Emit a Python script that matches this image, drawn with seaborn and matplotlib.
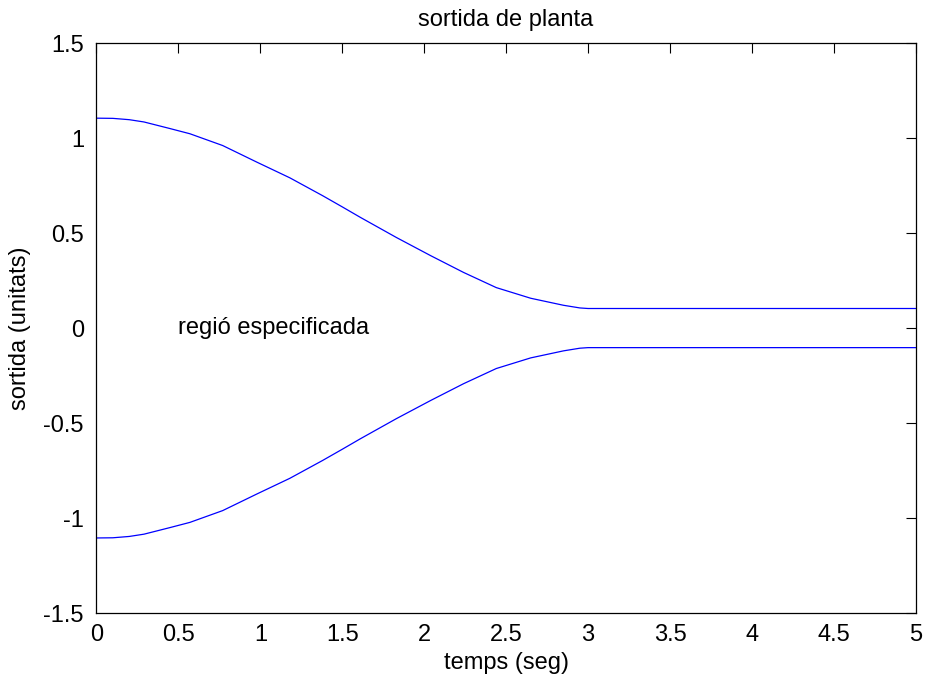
import matplotlib
matplotlib.use("Agg")
import matplotlib.pyplot as plt
import seaborn as sns
import pandas as pd

# data
t_vals = [0.0, 0.10, 0.20, 0.29, 0.45, 0.57, 0.77, 0.98, 1.18, 1.38, 1.50,
          1.61, 1.83, 2.04, 2.24, 2.44, 2.65, 2.85, 2.95, 3.0, 5.0]
upper_vals = [1.105, 1.104, 1.097, 1.085, 1.05, 1.023, 0.961, 0.873, 0.791, 0.697, 0.638,
              0.583, 0.477, 0.381, 0.293, 0.213, 0.157, 0.120, 0.106, 0.103, 0.103]
lower_vals = [-v for v in upper_vals]

x_ticks = [0, 0.5, 1, 1.5, 2, 2.5, 3, 3.5, 4, 4.5, 5]
x_tick_labels = ["0", "0.5", "1", "1.5", "2", "2.5", "3", "3.5", "4", "4.5", "5"]
y_ticks = [-1.5, -1, -0.5, 0, 0.5, 1, 1.5]
y_tick_labels = ["-1.5", "-1", "-0.5", "0", "0.5", "1", "1.5"]

title = "sortida de planta"
x_label = "temps (seg)"
y_label = "sortida (unitats)"
annotation = "regió especificada"

df = pd.DataFrame({
    "t": t_vals + t_vals,
    "v": upper_vals + lower_vals,
    "curve": ["upper"] * len(t_vals) + ["lower"] * len(t_vals),
})

sns.set_style("white")
plt.rcParams["font.family"] = ["Liberation Sans", "DejaVu Sans"]
plt.rcParams["text.color"] = "black"
plt.rcParams["axes.labelcolor"] = "black"

FS = 17

fig = plt.figure(figsize=(9.25, 6.74), dpi=100)
ax = fig.add_axes([0.1043, 0.0905, 0.8857, 0.8455])

sns.lineplot(data=df, x="t", y="v", units="curve", estimator=None,
             color="#0000ff", linewidth=0.9, ax=ax, legend=False, sort=False)

ax.set_xlim(0, 5)
ax.set_ylim(-1.5, 1.5)
ax.set_xticks(x_ticks)
ax.set_xticklabels(x_tick_labels)
ax.set_yticks(y_ticks)
ax.set_yticklabels(y_tick_labels)
ax.tick_params(direction="in", top=True, right=True, length=7, width=0.8,
               labelsize=FS, colors="black")
ax.tick_params(axis="x", pad=8)
ax.tick_params(axis="y", pad=9)
for s in ax.spines.values():
    s.set_color("black")
    s.set_linewidth(0.9)

ax.text(0.5, 1.04, title, fontsize=FS, ha="center", va="center",
        color="black", transform=ax.transAxes)
ax.set_xlabel(x_label, fontsize=FS, va="center", color="black")
ax.xaxis.set_label_coords(0.5, -0.088)
ax.set_ylabel(y_label, fontsize=FS, va="center", color="black")
ax.yaxis.set_label_coords(-0.093, 0.5)
ax.text(0.5, 0.0, annotation, fontsize=FS, ha="left", va="center", color="black")

fig.savefig("out.png", dpi=100)
